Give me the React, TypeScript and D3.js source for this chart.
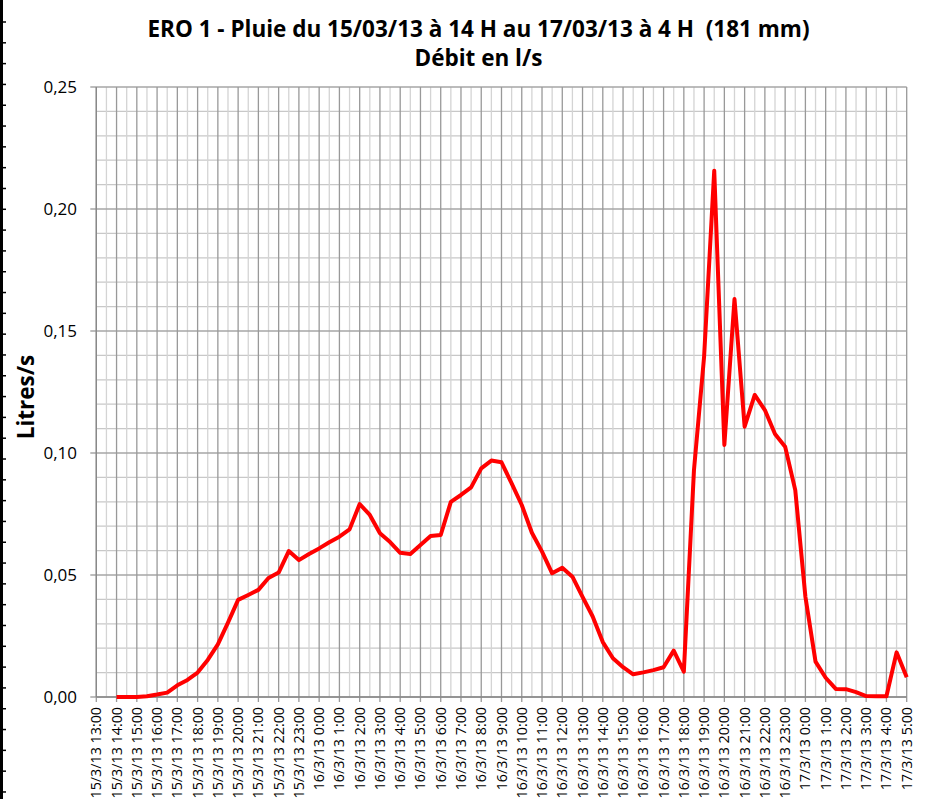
import React from "react";
import * as d3 from "d3";

// Half-hourly times, as hours after 15/3/13 13:00
const hours: number[] = d3.range(1, 40.001, 0.5);
const debit: number[] = [
  0, 0, 0, 0.0003, 0.001, 0.0018, 0.0048, 0.007, 0.010, 0.0152,
  0.0216, 0.0305, 0.0398, 0.0418, 0.0439, 0.0488, 0.0510, 0.0598, 0.0561, 0.0586,
  0.0609, 0.0634, 0.0657, 0.0687, 0.0791, 0.0746, 0.0671, 0.0635, 0.0591, 0.0586,
  0.0623, 0.0660, 0.0664, 0.0800, 0.0828, 0.0859, 0.0937, 0.0969, 0.0962, 0.0876,
  0.0787, 0.0673, 0.0596, 0.0507, 0.0530, 0.0493, 0.0410, 0.0330, 0.0225, 0.0159,
  0.0122, 0.0093, 0.0101, 0.0110, 0.0122, 0.0190, 0.0104, 0.0930, 0.1395, 0.2157,
  0.1033, 0.1631, 0.1108, 0.1238, 0.1176, 0.1078, 0.1026, 0.0848, 0.0411, 0.0145,
  0.0079, 0.0033, 0.0032, 0.0020, 0.0004, 0.0003, 0.0003, 0.0183, 0.0081,
];
const xTickLabels: string[] = [
  "15/3/13 13:00", "15/3/13 14:00", "15/3/13 15:00", "15/3/13 16:00", "15/3/13 17:00",
  "15/3/13 18:00", "15/3/13 19:00", "15/3/13 20:00", "15/3/13 21:00", "15/3/13 22:00",
  "15/3/13 23:00", "16/3/13 0:00", "16/3/13 1:00", "16/3/13 2:00", "16/3/13 3:00",
  "16/3/13 4:00", "16/3/13 5:00", "16/3/13 6:00", "16/3/13 7:00", "16/3/13 8:00",
  "16/3/13 9:00", "16/3/13 10:00", "16/3/13 11:00", "16/3/13 12:00", "16/3/13 13:00",
  "16/3/13 14:00", "16/3/13 15:00", "16/3/13 16:00", "16/3/13 17:00", "16/3/13 18:00",
  "16/3/13 19:00", "16/3/13 20:00", "16/3/13 21:00", "16/3/13 22:00", "16/3/13 23:00",
  "17/3/13 0:00", "17/3/13 1:00", "17/3/13 2:00", "17/3/13 3:00", "17/3/13 4:00",
  "17/3/13 5:00",
];
const yTicks: number[] = [0, 0.05, 0.1, 0.15, 0.2, 0.25];
const titleLine1 = "ERO 1 - Pluie du 15/03/13 à 14 H au 17/03/13 à 4 H  (181 mm)";
const titleLine2 = "Débit en l/s";
const yTitle = "Litres/s";

const W = 939;
const H = 799;
const left = 96.3;
const right = 906.7;
const top = 87;
const bottom = 697;
const font = "'Open Sans', Lato, sans-serif";

export default function App() {
  const x = d3.scaleLinear().domain([0, 40]).range([left, right]);
  const y = d3.scaleLinear().domain([0, 0.25]).range([bottom, top]);
  const line = d3
    .line<number>()
    .x((_, i) => x(hours[i]))
    .y((d) => y(d));

  const minorX = d3.range(0.5, 40, 1);
  const majorX = d3.range(0, 41, 1);
  const minorY = d3.range(0, 0.2501, 0.01).filter((v) => Math.round(v * 100) % 5 !== 0);
  const sheetTicks = d3.range(0, 38);

  return (
    <svg
      width={W}
      height={H}
      style={{ position: "absolute", left: 0, top: 0, background: "#fff" }}
    >
      {/* spreadsheet edge on the left */}
      <line x1={1.5} x2={1.5} y1={0} y2={H} stroke="#000" strokeWidth={3} />
      {sheetTicks.map((i) => (
        <line key={"st" + i} x1={0} x2={6} y1={22 + i * 20.81} y2={22 + i * 20.81} stroke="#000" strokeWidth={1.5} />
      ))}

      {/* grid */}
      {minorY.map((v) => (
        <line key={"my" + v} x1={left} x2={right} y1={y(v)} y2={y(v)} stroke="#c8c8c8" strokeWidth={1.3} />
      ))}
      {minorX.map((h) => (
        <line key={"mx" + h} x1={x(h)} x2={x(h)} y1={top} y2={bottom} stroke="#d4d4d4" strokeWidth={1.3} />
      ))}
      {yTicks.map((v) => (
        <line key={"gy" + v} x1={left - 6} x2={right} y1={y(v)} y2={y(v)} stroke="#a6a6a6" strokeWidth={1.3} />
      ))}
      {majorX.map((h) => (
        <line key={"gx" + h} x1={x(h)} x2={x(h)} y1={top} y2={bottom + 5} stroke="#999" strokeWidth={1.3} />
      ))}
      <line x1={left} x2={right} y1={bottom} y2={bottom} stroke="#888" strokeWidth={1.3} />
      <line x1={left} x2={left} y1={top} y2={bottom} stroke="#888" strokeWidth={1.3} />

      {/* y tick labels */}
      {yTicks.map((v) => (
        <text
          key={"yl" + v}
          x={77}
          y={y(v)}
          dy="0.36em"
          textAnchor="end"
          fontFamily={font}
          fontSize={17}
          fill="#000"
        >
          {v.toFixed(2).replace(".", ",")}
        </text>
      ))}

      {/* x tick labels */}
      {xTickLabels.map((lab, i) => (
        <text
          key={"xl" + i}
          transform={`translate(${x(i) + 5},${bottom + 10}) rotate(-90)`}
          textAnchor="end"
          fontFamily={font}
          fontSize={14.3}
          fill="#000"
        >
          {lab}
        </text>
      ))}

      {/* data */}
      <path
        d={line(debit) || ""}
        fill="none"
        stroke="#ff0000"
        strokeWidth={4}
        strokeLinejoin="round"
      />

      {/* titles */}
      <text x={478.5} y={37} textAnchor="middle" fontFamily={font} fontWeight="bold" fontSize={22.5} fill="#000" style={{ whiteSpace: "pre" }}>
        {titleLine1}
      </text>
      <text x={478.5} y={66} textAnchor="middle" fontFamily={font} fontWeight="bold" fontSize={22.5} fill="#000">
        {titleLine2}
      </text>
      <text
        transform={`translate(34,397) rotate(-90)`}
        textAnchor="middle"
        fontFamily={font}
        fontWeight="bold"
        fontSize={22.5}
        fill="#000"
      >
        {yTitle}
      </text>
    </svg>
  );
}
